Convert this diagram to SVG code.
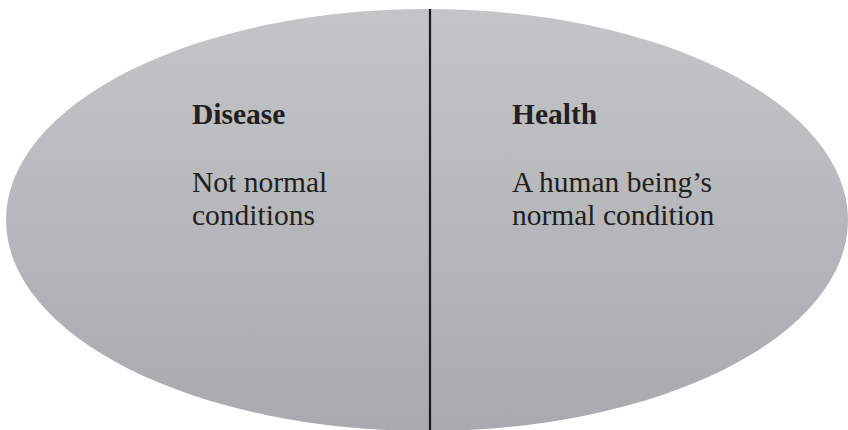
<svg xmlns="http://www.w3.org/2000/svg" width="848" height="430" viewBox="0 0 848 430">
<defs>
<linearGradient id="g" x1="0" y1="0" x2="0" y2="1">
<stop offset="0" stop-color="#c4c5c7"/>
<stop offset="1" stop-color="#a8aaad"/>
</linearGradient>
<style>
.t{font-family:"Liberation Serif","Times New Roman",serif;font-size:29.5px;fill:#231f20}
.b{font-weight:bold}
</style>
</defs>
<rect width="848" height="430" fill="#ffffff"/>
<g id="ellipse">
<ellipse cx="427" cy="220" rx="421" ry="211" fill="url(#g)"/>
</g>
<g id="connectors">
<line x1="430" y1="9" x2="430" y2="430" stroke="#1a1a1a" stroke-width="2.2"/>
</g>
<g id="disease">
<text class="t b" x="192" y="124">Disease</text>
<text class="t" x="192" y="191.5">Not normal</text>
<text class="t" x="192" y="225">conditions</text>
</g>
<g id="health">
<text class="t b" x="512" y="124">Health</text>
<text class="t" x="512" y="191.5">A human being’s</text>
<text class="t" x="512" y="225">normal condition</text>
</g>
</svg>
